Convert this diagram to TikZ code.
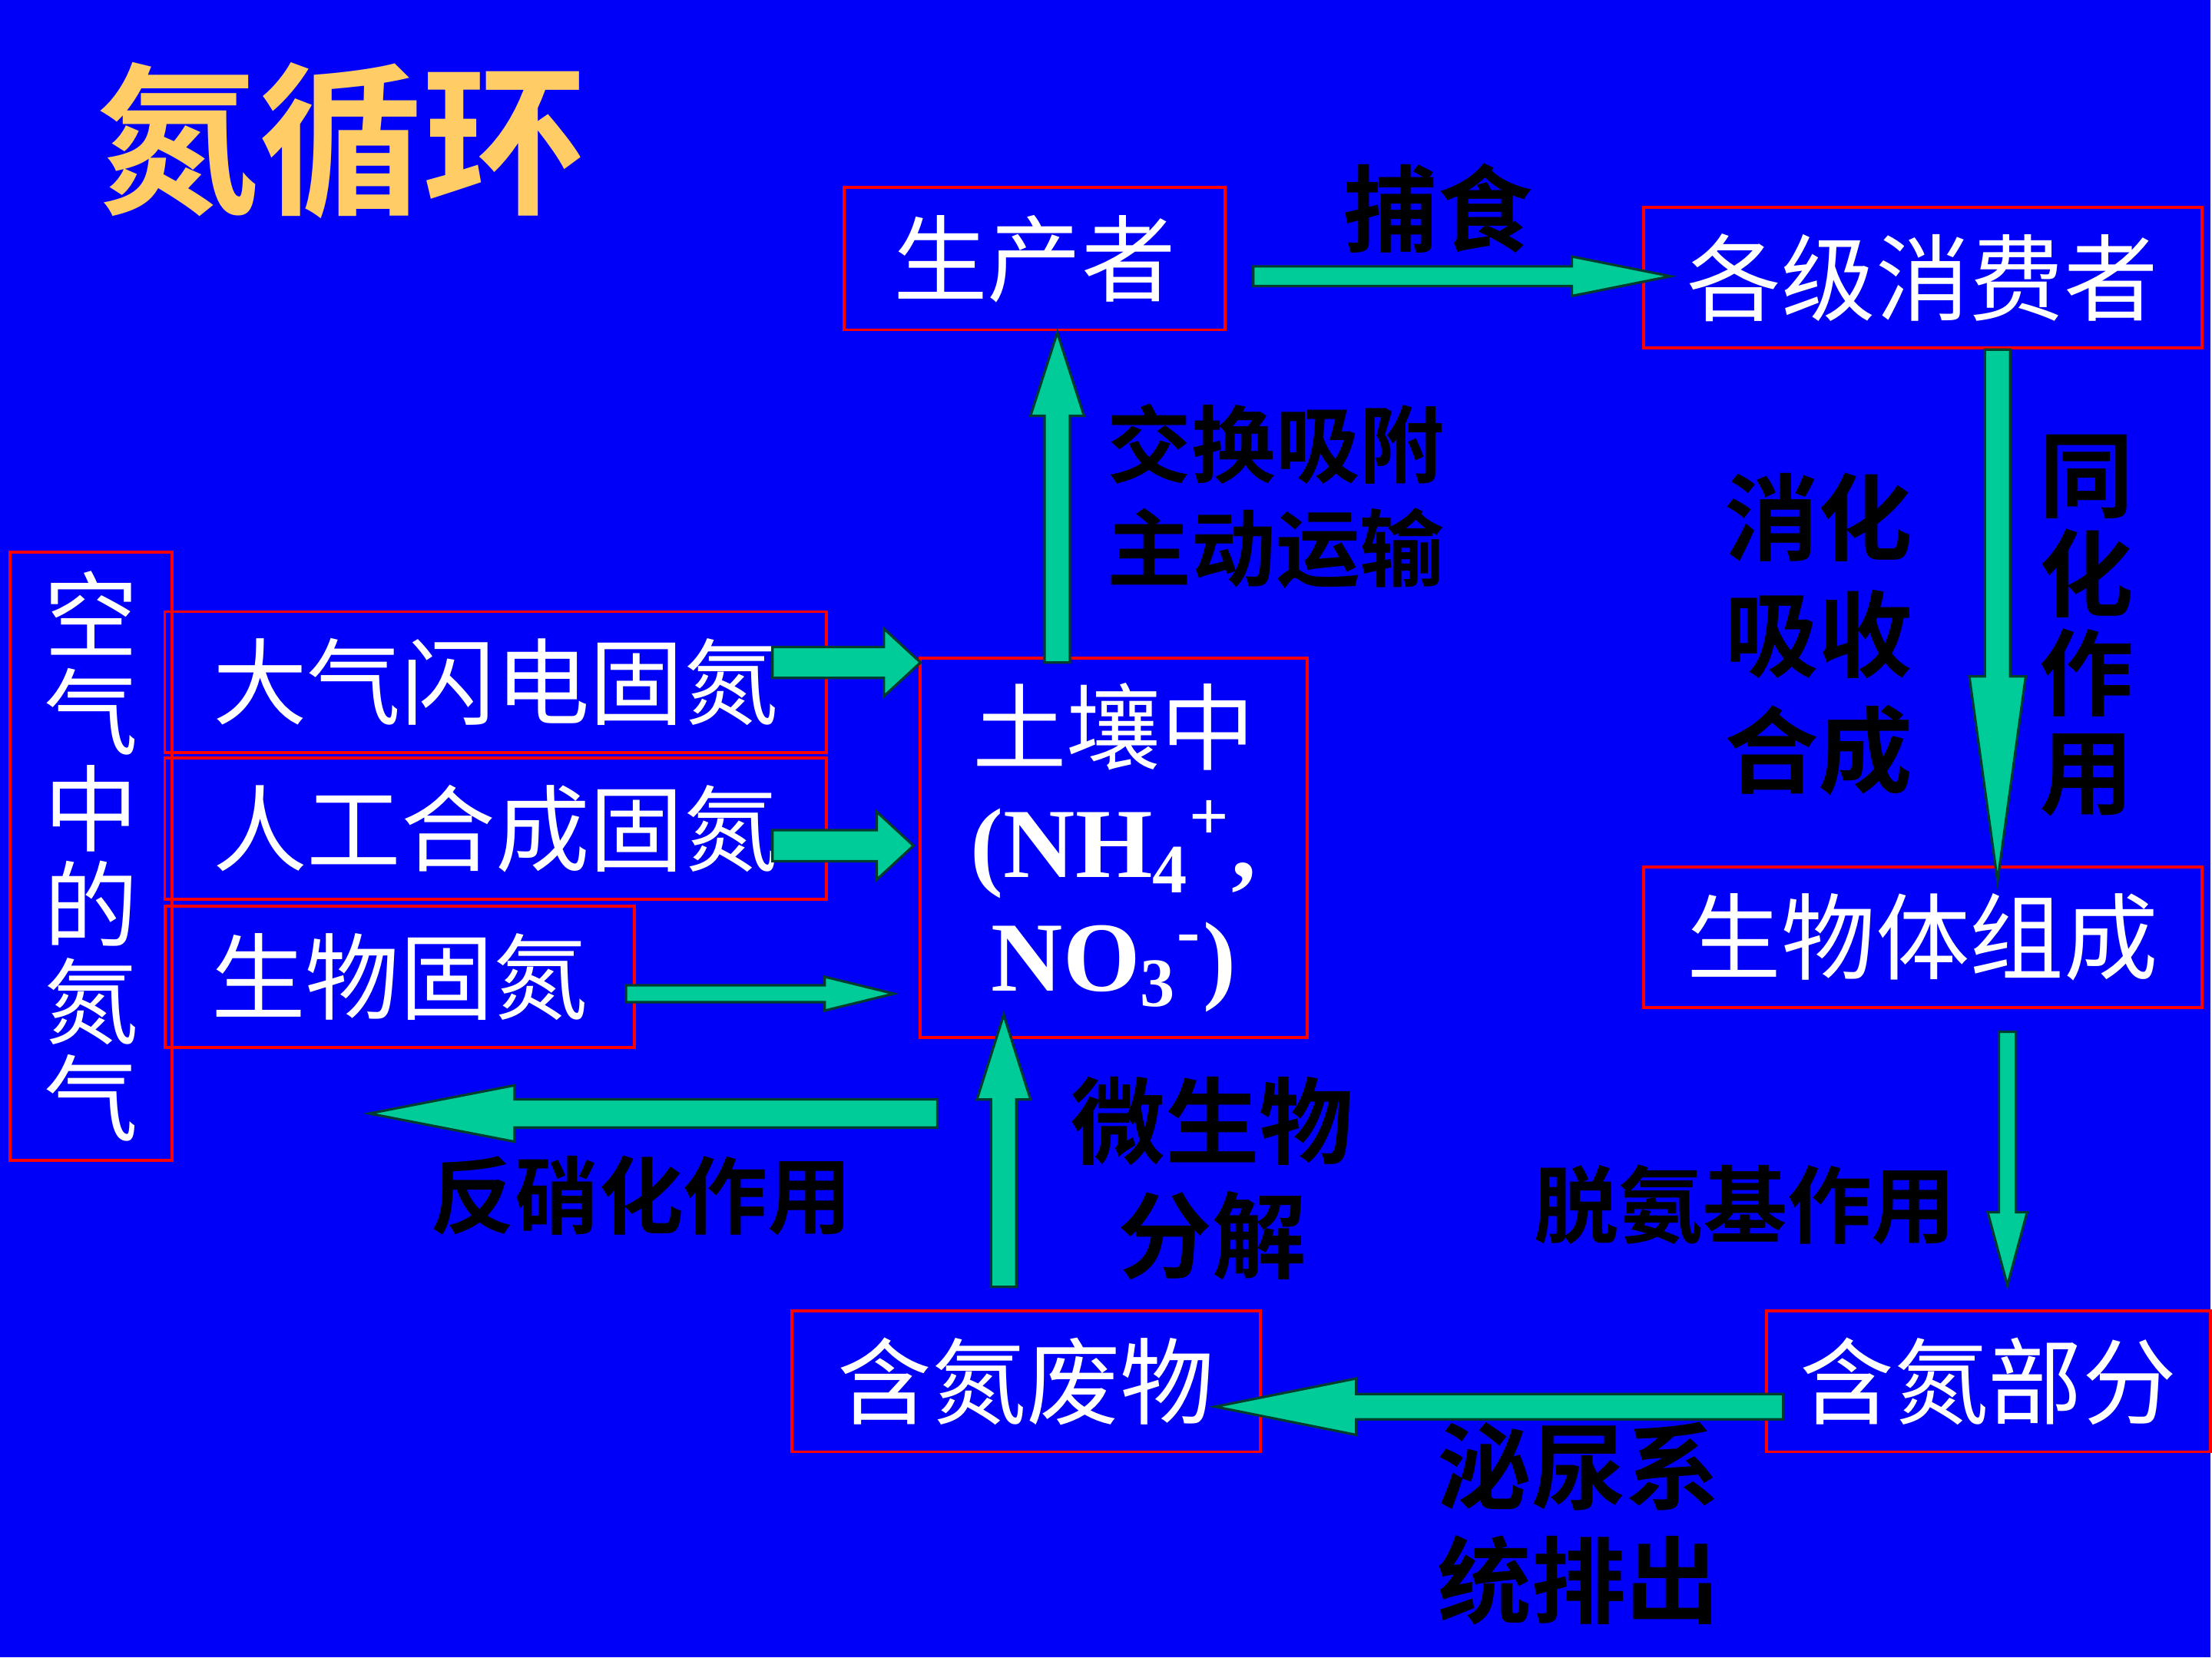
\documentclass[tikz,border=0pt]{standalone}
\usepackage{fontspec}
\setmainfont{Liberation Serif}
\newfontfamily\cjk{Noto Sans CJK SC}
\newfontfamily\cjkb{Noto Sans CJK SC Bold}
\usetikzlibrary{calc}
\definecolor{bgblue}{RGB}{0,0,250}
\definecolor{arrfill}{RGB}{0,204,153}
\definecolor{gold}{RGB}{255,204,102}
\tikzset{
 box/.style={draw=red, line width=0.6pt, inner sep=0pt, text=white, font=\cjk\fontsize{19}{22}\selectfont},
 lab/.style={text=black, inner sep=0pt, align=center, font=\cjkb\fontsize{19}{23}\selectfont},
 labs/.style={lab, font=\cjkb\fontsize{17}{18}\selectfont},
 arr/.style={fill=arrfill, draw=black!70!arrfill, line width=0.5pt, line join=miter}
}
\newcommand\blockarrow[5]{%
 \path ($(#2)!#5!(#1)$) coordinate (h);
 \draw[arr] ($(#1)!#3!90:(#2)$) -- ($(h)!#3!90:(#2)$) -- ($(h)!#4!90:(#2)$) -- (#2)
  -- ($(h)!#4!-90:(#2)$) -- ($(h)!#3!-90:(#2)$) -- ($(#1)!#3!-90:(#2)$) -- cycle;}
\begin{document}
\begin{tikzpicture}[x=0.01cm,y=-0.01cm]
\path[fill=bgblue] (0,0) rectangle (1568,1176);
\node[text=gold, inner sep=0pt, font=\cjkb\fontsize{33}{36}\selectfont] (title) at (242,100) {氮循环};
% boxes
\node[box, minimum width=2.70cm, minimum height=1.01cm] (prod) at (734,183.5) {生产者};
\node[box, minimum width=3.96cm, minimum height=1.00cm] (cons) at (1364,197) {各级消费者};
\node[box, minimum width=1.15cm, minimum height=4.31cm, align=center, font=\cjk\fontsize{19}{19.5}\selectfont] (air) at (64.5,607.5) {空\\气\\中\\的\\氮\\气};
\node[box, minimum width=4.69cm, minimum height=1.00cm] (light) at (351.5,484) {大气闪电固氮};
\node[box, minimum width=4.69cm, minimum height=1.00cm] (art) at (351.5,588) {人工合成固氮};
\node[box, minimum width=3.33cm, minimum height=1.00cm] (bio) at (283.5,693) {生物固氮};
\node[box, minimum width=2.74cm, minimum height=2.69cm, align=center, font=\bfseries\fontsize{20}{23}\selectfont] (soil) at (790,601.5) {{\mdseries\cjk\fontsize{19}{22}\selectfont 土壤中}\\(NH\textsubscript{4}\textsuperscript{+},\\NO\textsubscript{3}\textsuperscript{-})};
\node[box, minimum width=3.96cm, minimum height=1.00cm] (body) at (1364,665) {生物体组成};
\node[box, minimum width=3.32cm, minimum height=1.00cm] (waste) at (728,980) {含氮废物};
\node[box, minimum width=3.15cm, minimum height=1.00cm] (part) at (1410.5,980) {含氮部分};
% labels
\node[lab] (l1) at (1020,148) {捕食};
\node[labs, font=\cjkb\fontsize{17}{21}\selectfont] (l2) at (905,352) {交换吸附\\主动运输};
\node[lab, font=\cjkb\fontsize{19}{23.5}\selectfont] (l3) at (1290,450) {消化\\吸收\\合成};
\node[lab, font=\cjkb\fontsize{19}{20}\selectfont] (l4) at (1480,444) {同\\化\\作\\用};
\node[lab] (l5) at (860,836) {微生物\\分解};
\node[labs] (l6) at (455,848) {反硝化作用};
\node[labs] (l7) at (1238,855) {脱氨基作用};
\node[lab] (l8) at (1120,1081) {泌尿系\\统排出};
% arrow coordinates
\coordinate (a1s) at (889,196); \coordinate (a1e) at (1185,196);
\coordinate (a2s) at (1417,248); \coordinate (a2e) at (1417,625);
\coordinate (a3s) at (1424,732); \coordinate (a3e) at (1424,912);
\coordinate (a4s) at (1265,998); \coordinate (a4e) at (862,998);
\coordinate (a5s) at (712,913); \coordinate (a5e) at (712,720);
\coordinate (a6s) at (750,470); \coordinate (a6e) at (750,236);
\coordinate (a7s) at (548,470); \coordinate (a7e) at (653,470);
\coordinate (a8s) at (548,600); \coordinate (a8e) at (648,600);
\coordinate (a9s) at (444,705); \coordinate (a9e) at (634,705);
\coordinate (a10s) at (665,790); \coordinate (a10e) at (262,790);
\blockarrow{a1s}{a1e}{0.07cm}{0.14cm}{0.70cm}
\blockarrow{a2s}{a2e}{0.09cm}{0.20cm}{1.45cm}
\blockarrow{a3s}{a3e}{0.06cm}{0.14cm}{0.52cm}
\blockarrow{a4s}{a4e}{0.09cm}{0.20cm}{1.00cm}
\blockarrow{a5s}{a5e}{0.09cm}{0.19cm}{0.60cm}
\blockarrow{a6s}{a6e}{0.09cm}{0.19cm}{0.59cm}
\blockarrow{a7s}{a7e}{0.11cm}{0.24cm}{0.26cm}
\blockarrow{a8s}{a8e}{0.11cm}{0.24cm}{0.26cm}
\blockarrow{a9s}{a9e}{0.06cm}{0.12cm}{0.49cm}
\blockarrow{a10s}{a10e}{0.10cm}{0.20cm}{1.03cm}
\end{tikzpicture}
\end{document}
